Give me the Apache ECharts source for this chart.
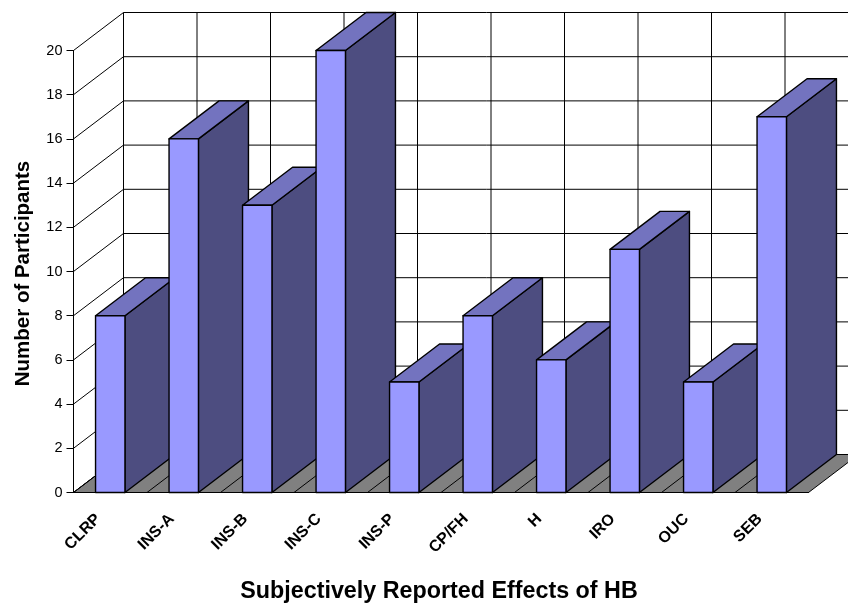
<!DOCTYPE html>
<html><head><meta charset="utf-8">
<style>html,body{margin:0;padding:0;background:#fff}#c{width:848px;height:603px}</style>
<script src="https://cdn.jsdelivr.net/npm/echarts@6/dist/echarts.min.js"></script>
</head><body><div id="c"></div>
<script>
const categories = ['CLRP','INS-A','INS-B','INS-C','INS-P','CP/FH','H','IRO','OUC','SEB'];
const participants = [8,16,13,20,5,8,6,11,5,17];
const yTicks = [0,2,4,6,8,10,12,14,16,18,20];
const categoryIndex = categories.map((c,i)=>i);

const DEPTH_X = 50, DEPTH_Y = -38, BAR_RATIO = 0.4;
const FONT = '"Liberation Sans", Arial, sans-serif';
const chart = echarts.init(document.getElementById('c'), null, {renderer:'canvas'});
const lineStyle = {stroke:'#000', lineWidth:1, fill:null};

function floorRender(p, api){
  if (p.dataIndex !== 0) return;
  const band = api.size([1,0])[0];
  const a = api.coord([0,0]), b = api.coord([categories.length-1,0]);
  const x0 = a[0]-band/2, x1 = b[0]+band/2, y = a[1];
  return {type:'polygon', shape:{points:[[x0,y],[x1,y],[x1+DEPTH_X,y+DEPTH_Y],[x0+DEPTH_X,y+DEPTH_Y]]},
    style:{fill:'#808080', stroke:'#000', lineWidth:1}};
}
function wallRender(p, api){
  const v = api.value(1);
  const band = api.size([1,0])[0];
  const a = api.coord([0,v]), b = api.coord([categories.length-1,v]);
  const x0 = a[0]-band/2, x1 = b[0]+band/2, y = a[1];
  return {type:'polyline', shape:{points:[[x0,y],[x0+DEPTH_X,y+DEPTH_Y],[x1+DEPTH_X,y+DEPTH_Y]]}, style:lineStyle};
}
function columnRender(p, api){
  const i = api.value(0);
  const band = api.size([1,0])[0];
  const bot = api.coord([i,0]), top = api.coord([i,20]);
  const x = bot[0]-band/2;
  return {type:'line', shape:{x1:x+DEPTH_X, y1:bot[1]+DEPTH_Y, x2:x+DEPTH_X, y2:top[1]+DEPTH_Y}, style:lineStyle};
}
function barRender(p, api){
  const i = api.value(0), v = api.value(1);
  const band = api.size([1,0])[0], w = band*BAR_RATIO;
  const top = api.coord([i,v]), bot = api.coord([i,0]);
  const l = top[0]-w/2, r = top[0]+w/2, t = top[1], b = bot[1];
  const s = {stroke:'#000', lineWidth:1.4, lineJoin:'round'};
  return {type:'group', children:[
    {type:'polygon', shape:{points:[[r,t],[r+DEPTH_X,t+DEPTH_Y],[r+DEPTH_X,b+DEPTH_Y],[r,b]]}, style:Object.assign({fill:'#4D4D80'},s)},
    {type:'polygon', shape:{points:[[l,t],[l+DEPTH_X,t+DEPTH_Y],[r+DEPTH_X,t+DEPTH_Y],[r,t]]}, style:Object.assign({fill:'#7373BF'},s)},
    {type:'rect', shape:{x:l, y:t, width:w, height:b-t}, style:Object.assign({fill:'#9999FF'},s)}
  ]};
}
chart.setOption({
  animation:false,
  backgroundColor:'#fff',
  grid:{left:73.5, top:50.5, width:735, height:442, containLabel:false, outerBoundsMode:'none'},
  xAxis:{type:'category', data:categories, z:10,
    axisTick:{show:false}, axisLine:{lineStyle:{color:'#000',width:1}},
    axisLabel:{interval:0, rotate:45, margin:12, padding:[0,17,0,0], color:'#000', fontFamily:FONT, fontWeight:'bold', fontSize:16},
    name:'Subjectively Reported Effects of HB', nameLocation:'middle', nameGap:88,
    nameTextStyle:{color:'#000', fontFamily:FONT, fontWeight:'bold', fontSize:23.3, padding:[0,4,0,0]}},
  yAxis:{type:'value', min:0, max:20, interval:2, z:10, splitLine:{show:false},
    axisLine:{show:true,lineStyle:{color:'#000',width:1}},
    axisTick:{show:true,length:7,lineStyle:{color:'#000',width:1}},
    axisLabel:{margin:11, color:'#000', fontFamily:FONT, fontSize:14.5},
    name:'Number of Participants', nameLocation:'middle', nameGap:40,
    nameTextStyle:{color:'#000', fontFamily:FONT, fontWeight:'bold', fontSize:20.5, padding:[0,4,0,0]}},
  series:[
    {type:'custom', renderItem:wallRender, data:yTicks.map(v=>[0,v]), silent:true, z:2},
    {type:'custom', renderItem:columnRender, data:categoryIndex.map(i=>[i,0]), silent:true, z:3},
    {type:'custom', renderItem:floorRender, data:[[0,0]], silent:true, z:4},
    {type:'custom', renderItem:(p,api)=>{
      const i=api.value(0), band=api.size([1,0])[0], c=api.coord([i,0]), x=c[0]-band/2;
      return {type:'line', shape:{x1:x,y1:c[1],x2:x+DEPTH_X,y2:c[1]+DEPTH_Y}, style:lineStyle};
    }, data:categoryIndex.map(i=>[i,0]), silent:true, z:5},
    {type:'custom', renderItem:barRender, data:categories.map((c,i)=>[i,participants[i]]), silent:true, z:6}
  ]
});
</script></body></html>
